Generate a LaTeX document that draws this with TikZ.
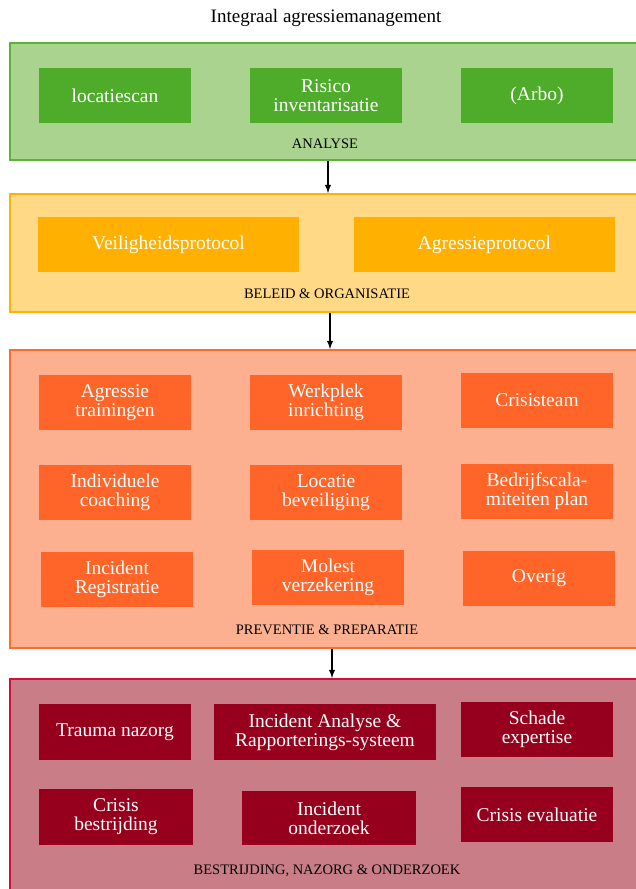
\documentclass[tikz,border=0pt]{standalone}
\usepackage{fontspec}
\setmainfont{Liberation Serif}
\usepackage{tikz}
\tikzset{> = latex, every picture/.style={line width=0.7pt}}
\definecolor{anafill}{HTML}{A9D38F}
\definecolor{anaedge}{HTML}{5DB33A}
\definecolor{anabox}{HTML}{4EAC2A}
\definecolor{belfill}{HTML}{FFD985}
\definecolor{beledge}{HTML}{FFB300}
\definecolor{belbox}{HTML}{FFB000}
\definecolor{prefill}{HTML}{FCB090}
\definecolor{preedge}{HTML}{FF6A30}
\definecolor{prebox}{HTML}{FF6429}
\definecolor{besfill}{HTML}{C97D87}
\definecolor{besedge}{HTML}{D0103A}
\definecolor{besbox}{HTML}{97001D}
\tikzset{
  panel/.style={rectangle,draw,line width=2pt,minimum width=630pt,inner sep=0pt},
  item/.style={rectangle,minimum width=152pt,minimum height=55pt,inner sep=0pt,
    align=center,text=white,font=\fontsize{19.5}{19}\selectfont},
  stagelabel/.style={font=\fontsize{14.5}{16}\selectfont}
}
\begin{document}
\begin{tikzpicture}[x=1pt,y=-1pt]
\useasboundingbox (0,0) rectangle (635,889);
\node[font=\fontsize{19}{21}\selectfont] (title) at (326,18) {Integraal agressiemanagement};

\begin{scope}[every node/.style={panel}]
\node[draw=anaedge,fill=anafill,minimum height=117pt] (analyse) at (325,101.5) {};
\node[draw=beledge,fill=belfill,minimum height=118pt] (beleid) at (325,253) {};
\node[draw=preedge,fill=prefill,minimum height=298pt] (preventie) at (325,499) {};
\node[draw=besedge,fill=besfill,minimum height=221pt] (bestrijding) at (325,789.5) {};
\end{scope}

% analyse
\begin{scope}[every node/.style={item,fill=anabox}]
\node (locatiescan) at (115,95.5) {locatiescan};
\node (risico) at (326,95.5) {Risico\\inventarisatie};
\node (arbo) at (537,95.5) {(Arbo)};
\end{scope}
\node[stagelabel] (analyselbl) at (325,144) {ANALYSE};

% beleid
\begin{scope}[every node/.style={item,fill=belbox,minimum width=261pt}]
\node (veiligheid) at (168.5,244.5) {Veiligheidsprotocol};
\node (agressieprot) at (484.5,244.5) {Agressieprotocol};
\end{scope}
\node[stagelabel] (beleidlbl) at (327,294) {BELEID \& ORGANISATIE};

% preventie
\begin{scope}[every node/.style={item,fill=prebox}]
\node (trainingen) at (115,402.5) {Agressie\\trainingen};
\node (werkplek) at (326,402.5) {Werkplek\\inrichting};
\node (crisisteam) at (537,400.5) {Crisisteam};
\node (coaching) at (115,492.5) {Individuele\\coaching};
\node (beveiliging) at (326,492.5) {Locatie\\beveiliging};
\node (calamiteiten) at (537,491.5) {Bedrijfscala-\\miteiten plan};
\node (registratie) at (117,579.5) {Incident\\Registratie};
\node (molest) at (328,577.5) {Molest\\verzekering};
\node (overig) at (539,578) {Overig};
\end{scope}
\node[stagelabel] (preventielbl) at (327,630) {PREVENTIE \& PREPARATIE};

% bestrijding
\begin{scope}[every node/.style={item,fill=besbox}]
\node[minimum height=56pt] (trauma) at (115,732) {Trauma nazorg};
\node[minimum width=222pt,minimum height=56pt] (analysesys) at (325,732) {Incident Analyse \&\\Rapporterings-systeem};
\node (schade) at (537,729.5) {Schade\\expertise};
\node[minimum width=154pt,minimum height=56pt] (crisis) at (116,817) {Crisis\\bestrijding};
\node[minimum width=174pt,minimum height=54pt] (onderzoek) at (329,818) {Incident\\onderzoek};
\node (evaluatie) at (537,814.5) {Crisis evaluatie};
\end{scope}
\node[stagelabel] (bestrijdinglbl) at (327,871) {BESTRIJDING, NAZORG \& ONDERZOEK};

\begin{scope}[every edge/.style={draw,line width=1.8pt}]
    \path [->] ([xshift=3pt]analyse.south) edge ([xshift=3pt]beleid.north);
    \path [->] ([xshift=5pt]beleid.south) edge ([xshift=5pt]preventie.north);
    \path [->] ([xshift=7pt]preventie.south) edge ([xshift=7pt]bestrijding.north);
\end{scope}
\end{tikzpicture}
\end{document}
